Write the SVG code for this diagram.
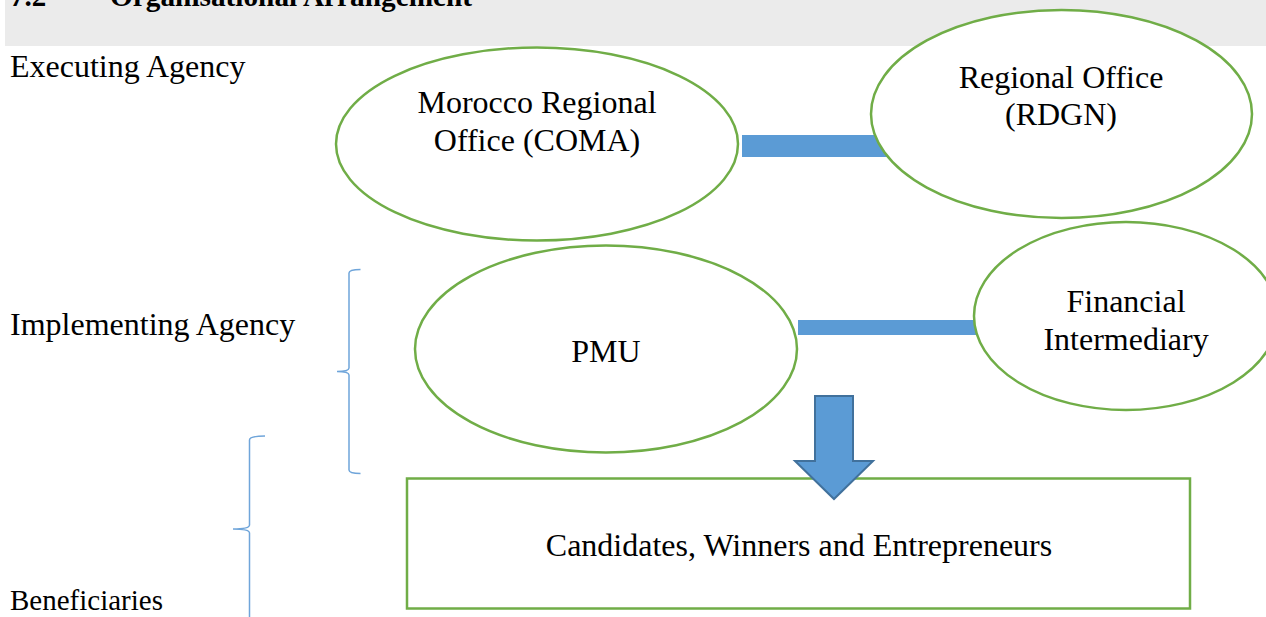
<svg xmlns="http://www.w3.org/2000/svg" width="1266" height="617" viewBox="0 0 1266 617">
<style>
.t{font-family:"Liberation Serif","Times New Roman",serif;fill:#000;}
.lbl{font-size:32px;}
.nt{font-size:32px;text-anchor:middle;}
.node{fill:#fff;stroke:#70ad47;stroke-width:2.5;}
.bar{fill:#5b9bd5;}
.brace{fill:none;stroke:#6fa5da;stroke-width:1.5;}
</style>
<rect x="5" y="0" width="1261" height="46" fill="#ebebeb"/>
<text class="t" x="10" y="6" font-size="29" font-weight="bold">7.2</text>
<text class="t" x="110" y="6" font-size="29.3" font-weight="bold">Organisational Arrangement</text>
<text class="t lbl" x="10" y="77">Executing Agency</text>
<text class="t lbl" x="10" y="335">Implementing Agency</text>
<text class="t" x="10" y="610" font-size="29">Beneficiaries</text>
<g id="connectors">
<rect class="bar" x="742" y="135" width="200" height="22"/>
<rect class="bar" x="798" y="320" width="190" height="15"/>
<path class="brace" d="M360.5,269.5 Q349,269.5 349,273 L349,368 Q349,371.5 337,371.5 Q349,371.5 349,375 L349,470 Q349,473.5 360.5,473.5"/>
<path class="brace" d="M265,436 Q249.5,436 249.5,440 L249.5,525 Q249.5,529 233,529 Q249.5,529 249.5,533 L249.5,617"/>
</g>
<g id="coma">
<ellipse class="node" cx="537" cy="144" rx="201" ry="96.5"/>
<text class="t nt" x="537" y="113">Morocco Regional</text>
<text class="t nt" x="537" y="151">Office (COMA)</text>
</g>
<g id="rdgn">
<ellipse class="node" cx="1061.5" cy="114" rx="190.5" ry="104"/>
<text class="t nt" x="1061" y="88">Regional Office</text>
<text class="t nt" x="1061" y="125">(RDGN)</text>
</g>
<g id="pmu">
<ellipse class="node" cx="606" cy="349" rx="191" ry="103.5"/>
<text class="t nt" x="606" y="362">PMU</text>
</g>
<g id="fi">
<ellipse class="node" cx="1126" cy="316" rx="152" ry="94"/>
<text class="t nt" x="1126" y="312">Financial</text>
<text class="t nt" x="1126" y="350">Intermediary</text>
</g>
<g id="beneficiaries">
<rect class="node" x="407" y="478.5" width="783" height="130"/>
<text class="t nt" x="799" y="556">Candidates, Winners and Entrepreneurs</text>
</g>
<g id="arrow">
<path d="M815,396 L853,396 L853,461 L873,461 L834,499 L795,461 L815,461 Z" fill="#5b9bd5" stroke="#41719c" stroke-width="2"/>
</g>
</svg>
